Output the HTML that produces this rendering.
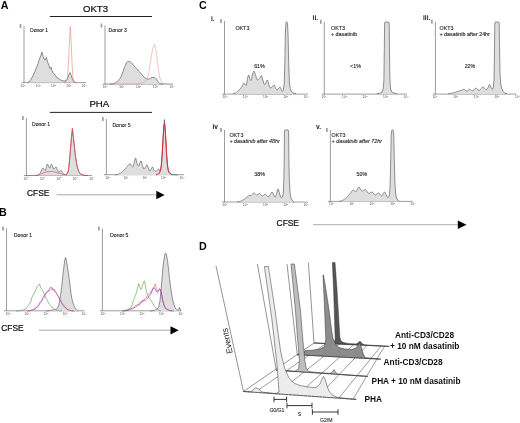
<!DOCTYPE html>
<html><head><meta charset="utf-8"><title>Figure</title>
<style>
html,body{margin:0;padding:0;background:#fff;}
body{width:520px;height:423px;overflow:hidden;font-family:"Liberation Sans",sans-serif;}
svg{display:block;font-family:"Liberation Sans",sans-serif;}
</style></head><body>
<svg width="520" height="423" viewBox="0 0 520 423">
<defs><filter id="b" x="0" y="0" width="100%" height="100%"><feGaussianBlur stdDeviation="0.32"/></filter></defs>
<rect width="520" height="423" fill="#fff"/>
<g filter="url(#b)">
<text x="0.80" y="8.50" font-size="10.7" font-weight="bold" fill="#000" text-anchor="start"  >A</text>
<text x="83.00" y="11.50" font-size="9.6" font-weight="normal" fill="#111" text-anchor="start" stroke="#111" stroke-width="0.22" >OKT3</text>
<line x1="49.80" y1="16.50" x2="152.00" y2="16.50" stroke="#222" stroke-width="1" />
<line x1="24.00" y1="26.00" x2="24.00" y2="82.90" stroke="#747474" stroke-width="0.7" />
<line x1="21.50" y1="82.60" x2="86.00" y2="82.60" stroke="#747474" stroke-width="0.7" />
<rect x="19.7" y="24.0" width="1.6" height="4" fill="#9a9a9a"/>
<text x="23.00" y="86.60" font-size="3.2" font-weight="normal" fill="#4a4a4a" text-anchor="middle"  >10<tspan dy="-1.1" font-size="2.2">0</tspan></text>
<text x="38.25" y="86.60" font-size="3.2" font-weight="normal" fill="#4a4a4a" text-anchor="middle"  >10<tspan dy="-1.1" font-size="2.2">1</tspan></text>
<text x="53.50" y="86.60" font-size="3.2" font-weight="normal" fill="#4a4a4a" text-anchor="middle"  >10<tspan dy="-1.1" font-size="2.2">2</tspan></text>
<text x="68.75" y="86.60" font-size="3.2" font-weight="normal" fill="#4a4a4a" text-anchor="middle"  >10<tspan dy="-1.1" font-size="2.2">3</tspan></text>
<text x="84.00" y="86.60" font-size="3.2" font-weight="normal" fill="#4a4a4a" text-anchor="middle"  >10<tspan dy="-1.1" font-size="2.2">4</tspan></text>
<text x="30.00" y="32.20" font-size="5.1" font-weight="normal" fill="#111" text-anchor="start" stroke="#111" stroke-width="0.09" >Donor 1</text>
<path d="M27.70 82.60 L30.00 81.10 L32.00 77.60 L34.00 73.60 L36.00 68.60 L38.00 63.60 L39.60 58.60 L40.80 55.60 L42.00 52.10 L43.00 56.10 L44.00 58.60 L45.00 60.10 L46.40 57.60 L47.50 61.60 L49.00 65.60 L50.00 68.60 L51.00 67.10 L52.00 70.60 L53.50 73.60 L55.00 74.60 L56.00 76.60 L58.00 78.10 L60.00 79.60 L62.00 80.60 L64.00 81.10 L66.00 80.60 L67.50 78.60 L69.00 74.60 L70.00 72.60 L71.00 74.60 L72.50 79.60 L74.00 82.10 L76.00 82.60Z" fill="#dedede" stroke="none"/>
<path d="M27.70 82.60 L30.00 81.10 L32.00 77.60 L34.00 73.60 L36.00 68.60 L38.00 63.60 L39.60 58.60 L40.80 55.60 L42.00 52.10 L43.00 56.10 L44.00 58.60 L45.00 60.10 L46.40 57.60 L47.50 61.60 L49.00 65.60 L50.00 68.60 L51.00 67.10 L52.00 70.60 L53.50 73.60 L55.00 74.60 L56.00 76.60 L58.00 78.10 L60.00 79.60 L62.00 80.60 L64.00 81.10 L66.00 80.60 L67.50 78.60 L69.00 74.60 L70.00 72.60 L71.00 74.60 L72.50 79.60 L74.00 82.10 L76.00 82.60" fill="none" stroke="#4a4a4a" stroke-width="0.6" stroke-linejoin="round" />
<path d="M64.00 82.60 L66.50 81.60 L67.50 77.60 L68.50 64.60 L69.30 44.60 L70.30 26.60 L71.30 44.60 L72.10 64.60 L73.00 77.60 L74.00 81.60 L76.00 82.60" fill="none" stroke="#e27878" stroke-width="0.55" stroke-linejoin="round" />
<line x1="105.00" y1="25.50" x2="105.00" y2="84.40" stroke="#747474" stroke-width="0.7" />
<line x1="102.50" y1="84.10" x2="173.00" y2="84.10" stroke="#747474" stroke-width="0.7" />
<rect x="100.7" y="23.5" width="1.6" height="4" fill="#9a9a9a"/>
<text x="105.00" y="88.10" font-size="3.2" font-weight="normal" fill="#4a4a4a" text-anchor="middle"  >10<tspan dy="-1.1" font-size="2.2">0</tspan></text>
<text x="121.75" y="88.10" font-size="3.2" font-weight="normal" fill="#4a4a4a" text-anchor="middle"  >10<tspan dy="-1.1" font-size="2.2">1</tspan></text>
<text x="138.50" y="88.10" font-size="3.2" font-weight="normal" fill="#4a4a4a" text-anchor="middle"  >10<tspan dy="-1.1" font-size="2.2">2</tspan></text>
<text x="155.25" y="88.10" font-size="3.2" font-weight="normal" fill="#4a4a4a" text-anchor="middle"  >10<tspan dy="-1.1" font-size="2.2">3</tspan></text>
<text x="172.00" y="88.10" font-size="3.2" font-weight="normal" fill="#4a4a4a" text-anchor="middle"  >10<tspan dy="-1.1" font-size="2.2">4</tspan></text>
<text x="108.60" y="32.20" font-size="5.1" font-weight="normal" fill="#111" text-anchor="start" stroke="#111" stroke-width="0.09" >Donor 3</text>
<path d="M110.00 84.10 L111.10 84.05 L112.21 83.92 L113.31 83.74 L114.42 83.35 L115.52 82.68 L116.62 81.96 L117.73 81.38 L118.83 79.99 L119.94 78.50 L121.04 77.01 L122.15 73.83 L123.25 70.86 L124.35 67.70 L125.46 64.96 L126.56 62.57 L127.67 61.58 L128.77 61.72 L129.88 61.59 L130.98 62.49 L132.08 63.49 L133.19 64.53 L134.29 66.28 L135.40 67.35 L136.50 68.31 L137.60 69.29 L138.71 71.00 L139.81 72.03 L140.92 73.44 L142.02 74.75 L143.12 75.98 L144.23 77.46 L145.33 78.16 L146.44 78.75 L147.54 78.69 L148.65 79.06 L149.75 78.91 L150.85 78.01 L151.96 77.59 L153.06 77.29 L154.17 77.59 L155.27 77.85 L156.38 79.00 L157.48 80.64 L158.58 82.22 L159.69 83.33 L160.79 83.75 L161.90 84.01 L163.00 84.10Z" fill="#dedede" stroke="none"/>
<path d="M110.00 84.10 L111.10 84.05 L112.21 83.92 L113.31 83.74 L114.42 83.35 L115.52 82.68 L116.62 81.96 L117.73 81.38 L118.83 79.99 L119.94 78.50 L121.04 77.01 L122.15 73.83 L123.25 70.86 L124.35 67.70 L125.46 64.96 L126.56 62.57 L127.67 61.58 L128.77 61.72 L129.88 61.59 L130.98 62.49 L132.08 63.49 L133.19 64.53 L134.29 66.28 L135.40 67.35 L136.50 68.31 L137.60 69.29 L138.71 71.00 L139.81 72.03 L140.92 73.44 L142.02 74.75 L143.12 75.98 L144.23 77.46 L145.33 78.16 L146.44 78.75 L147.54 78.69 L148.65 79.06 L149.75 78.91 L150.85 78.01 L151.96 77.59 L153.06 77.29 L154.17 77.59 L155.27 77.85 L156.38 79.00 L157.48 80.64 L158.58 82.22 L159.69 83.33 L160.79 83.75 L161.90 84.01 L163.00 84.10" fill="none" stroke="#4a4a4a" stroke-width="0.6" stroke-linejoin="round" />
<path d="M105.00 84.10 L106.10 84.05 L107.20 84.01 L108.31 83.96 L109.41 83.92 L110.51 83.89 L111.61 83.87 L112.71 83.83 L113.81 83.80 L114.92 83.75 L116.02 83.74 L117.12 83.71 L118.22 83.69 L119.32 83.68 L120.42 83.69 L121.53 83.72 L122.63 83.72 L123.73 83.72 L124.83 83.72 L125.93 83.68 L127.03 83.69 L128.14 83.71 L129.24 83.71 L130.34 83.72 L131.44 83.72 L132.54 83.68 L133.64 83.71 L134.75 83.71 L135.85 83.69 L136.95 83.63 L138.05 83.57 L139.15 83.44 L140.25 83.39 L141.36 83.24 L142.46 83.02 L143.56 82.61 L144.66 82.16 L145.76 81.24 L146.86 79.67 L147.97 76.19 L149.07 71.22 L150.17 64.04 L151.27 57.04 L152.37 50.49 L153.47 46.07 L154.58 44.50 L155.68 48.59 L156.78 55.44 L157.88 65.04 L158.98 73.98 L160.08 78.57 L161.19 81.27 L162.29 82.52 L163.39 83.16 L164.49 83.42 L165.59 83.51 L166.69 83.64 L167.80 83.72 L168.90 83.79 L170.00 83.79" fill="none" stroke="#e89090" stroke-width="0.55" stroke-linejoin="round" />
<text x="89.40" y="106.60" font-size="9.6" font-weight="normal" fill="#111" text-anchor="start" stroke="#111" stroke-width="0.22" >PHA</text>
<line x1="49.80" y1="112.40" x2="152.00" y2="112.40" stroke="#222" stroke-width="1" />
<line x1="26.40" y1="118.00" x2="26.40" y2="175.80" stroke="#747474" stroke-width="0.7" />
<line x1="23.90" y1="175.50" x2="92.00" y2="175.50" stroke="#747474" stroke-width="0.7" />
<rect x="22.1" y="116.0" width="1.6" height="4" fill="#9a9a9a"/>
<text x="26.00" y="179.50" font-size="3.2" font-weight="normal" fill="#4a4a4a" text-anchor="middle"  >10<tspan dy="-1.1" font-size="2.2">0</tspan></text>
<text x="42.40" y="179.50" font-size="3.2" font-weight="normal" fill="#4a4a4a" text-anchor="middle"  >10<tspan dy="-1.1" font-size="2.2">1</tspan></text>
<text x="58.80" y="179.50" font-size="3.2" font-weight="normal" fill="#4a4a4a" text-anchor="middle"  >10<tspan dy="-1.1" font-size="2.2">2</tspan></text>
<text x="75.20" y="179.50" font-size="3.2" font-weight="normal" fill="#4a4a4a" text-anchor="middle"  >10<tspan dy="-1.1" font-size="2.2">3</tspan></text>
<text x="91.60" y="179.50" font-size="3.2" font-weight="normal" fill="#4a4a4a" text-anchor="middle"  >10<tspan dy="-1.1" font-size="2.2">4</tspan></text>
<text x="32.00" y="126.20" font-size="5.1" font-weight="normal" fill="#111" text-anchor="start" stroke="#111" stroke-width="0.09" >Donor 1</text>
<path d="M36.00 175.60 L36.30 175.59 L36.60 175.56 L36.90 175.50 L37.20 175.44 L37.50 175.36 L37.80 175.26 L38.10 175.16 L38.40 174.99 L38.70 174.75 L39.00 174.46 L39.30 174.11 L39.60 173.73 L39.90 173.32 L40.20 172.91 L40.50 172.50 L40.80 172.01 L41.10 171.38 L41.40 170.67 L41.70 169.95 L42.00 169.26 L42.30 168.67 L42.60 168.24 L42.90 168.02 L43.20 168.06 L43.50 168.33 L43.80 168.75 L44.10 169.25 L44.40 169.75 L44.70 170.17 L45.00 170.44 L45.30 170.46 L45.60 169.93 L45.90 168.94 L46.20 167.69 L46.50 166.37 L46.80 165.19 L47.10 164.33 L47.40 164.00 L47.70 164.22 L48.00 164.79 L48.30 165.57 L48.60 166.43 L48.90 167.21 L49.20 167.78 L49.50 168.00 L49.80 167.80 L50.10 167.29 L50.40 166.58 L50.70 165.82 L51.00 165.11 L51.30 164.60 L51.60 164.40 L51.90 164.63 L52.20 165.24 L52.50 166.08 L52.80 167.01 L53.10 167.90 L53.40 168.60 L53.70 168.97 L54.00 168.95 L54.30 168.74 L54.60 168.40 L54.90 168.00 L55.20 167.60 L55.50 167.26 L55.80 167.05 L56.10 167.02 L56.40 167.34 L56.70 167.96 L57.00 168.76 L57.30 169.65 L57.60 170.52 L57.90 171.27 L58.20 171.80 L58.50 172.00 L58.80 171.94 L59.10 171.80 L59.40 171.59 L59.70 171.34 L60.00 171.09 L60.30 170.87 L60.60 170.70 L60.90 170.61 L61.20 170.65 L61.50 170.91 L61.80 171.33 L62.10 171.86 L62.40 172.43 L62.70 172.99 L63.00 173.48 L63.30 173.85 L63.60 174.05 L63.90 174.20 L64.20 174.34 L64.50 174.47 L64.80 174.58 L65.10 174.67 L65.40 174.74 L65.70 174.78 L66.00 174.80 L67.00 174.00 L68.20 171.00 L69.00 166.00 L70.00 155.00 L71.20 140.00 L72.40 128.60 L73.70 140.00 L75.30 155.00 L76.70 164.00 L77.60 168.00 L79.00 172.00 L80.60 174.00 L83.50 175.20 L88.00 175.60Z" fill="#dedede" stroke="none"/>
<path d="M36.00 175.60 L36.30 175.59 L36.60 175.56 L36.90 175.50 L37.20 175.44 L37.50 175.36 L37.80 175.26 L38.10 175.16 L38.40 174.99 L38.70 174.75 L39.00 174.46 L39.30 174.11 L39.60 173.73 L39.90 173.32 L40.20 172.91 L40.50 172.50 L40.80 172.01 L41.10 171.38 L41.40 170.67 L41.70 169.95 L42.00 169.26 L42.30 168.67 L42.60 168.24 L42.90 168.02 L43.20 168.06 L43.50 168.33 L43.80 168.75 L44.10 169.25 L44.40 169.75 L44.70 170.17 L45.00 170.44 L45.30 170.46 L45.60 169.93 L45.90 168.94 L46.20 167.69 L46.50 166.37 L46.80 165.19 L47.10 164.33 L47.40 164.00 L47.70 164.22 L48.00 164.79 L48.30 165.57 L48.60 166.43 L48.90 167.21 L49.20 167.78 L49.50 168.00 L49.80 167.80 L50.10 167.29 L50.40 166.58 L50.70 165.82 L51.00 165.11 L51.30 164.60 L51.60 164.40 L51.90 164.63 L52.20 165.24 L52.50 166.08 L52.80 167.01 L53.10 167.90 L53.40 168.60 L53.70 168.97 L54.00 168.95 L54.30 168.74 L54.60 168.40 L54.90 168.00 L55.20 167.60 L55.50 167.26 L55.80 167.05 L56.10 167.02 L56.40 167.34 L56.70 167.96 L57.00 168.76 L57.30 169.65 L57.60 170.52 L57.90 171.27 L58.20 171.80 L58.50 172.00 L58.80 171.94 L59.10 171.80 L59.40 171.59 L59.70 171.34 L60.00 171.09 L60.30 170.87 L60.60 170.70 L60.90 170.61 L61.20 170.65 L61.50 170.91 L61.80 171.33 L62.10 171.86 L62.40 172.43 L62.70 172.99 L63.00 173.48 L63.30 173.85 L63.60 174.05 L63.90 174.20 L64.20 174.34 L64.50 174.47 L64.80 174.58 L65.10 174.67 L65.40 174.74 L65.70 174.78 L66.00 174.80 L67.00 174.00 L68.20 171.00 L69.00 166.00 L70.00 155.00 L71.20 140.00 L72.40 128.60 L73.70 140.00 L75.30 155.00 L76.70 164.00 L77.60 168.00 L79.00 172.00 L80.60 174.00 L83.50 175.20 L88.00 175.60" fill="none" stroke="#4a4a4a" stroke-width="0.6" stroke-linejoin="round" />
<path d="M26.00 175.60 L26.40 175.60 L26.80 175.60 L27.20 175.60 L27.60 175.59 L28.00 175.59 L28.40 175.58 L28.80 175.58 L29.20 175.57 L29.60 175.56 L30.00 175.55 L30.40 175.54 L30.80 175.53 L31.20 175.52 L31.60 175.50 L32.00 175.49 L32.40 175.47 L32.80 175.46 L33.20 175.44 L33.60 175.42 L34.00 175.41 L34.40 175.39 L34.80 175.37 L35.20 175.35 L35.60 175.32 L36.00 175.30 L36.40 175.26 L36.80 175.21 L37.20 175.13 L37.60 175.03 L38.00 174.92 L38.40 174.80 L38.80 174.67 L39.20 174.52 L39.60 174.38 L40.00 174.22 L40.40 174.07 L40.80 173.92 L41.20 173.77 L41.60 173.63 L42.00 173.50 L42.40 173.36 L42.80 173.21 L43.20 173.05 L43.60 172.89 L44.00 172.72 L44.40 172.55 L44.80 172.39 L45.20 172.25 L45.60 172.11 L46.00 171.99 L46.40 171.89 L46.80 171.82 L47.20 171.78 L47.60 171.74 L48.00 171.70 L48.40 171.67 L48.80 171.64 L49.20 171.61 L49.60 171.58 L50.00 171.56 L50.40 171.54 L50.80 171.52 L51.20 171.51 L51.60 171.50 L52.00 171.50 L52.40 171.51 L52.80 171.54 L53.20 171.59 L53.60 171.66 L54.00 171.74 L54.40 171.83 L54.80 171.92 L55.20 172.03 L55.60 172.13 L56.00 172.24 L56.40 172.35 L56.80 172.45 L57.20 172.55 L57.60 172.66 L58.00 172.78 L58.40 172.91 L58.80 173.04 L59.20 173.17 L59.60 173.31 L60.00 173.44 L60.40 173.57 L60.80 173.70 L61.20 173.81 L61.60 173.91 L62.00 174.00 L62.40 174.08 L62.80 174.15 L63.20 174.22 L63.60 174.29 L64.00 174.36 L64.40 174.42 L64.80 174.47 L65.20 174.52 L65.60 174.56 L66.00 174.60 L67.00 174.00 L68.20 171.00 L69.00 166.00 L70.00 155.00 L71.20 140.00 L72.40 128.60 L73.70 140.00 L75.30 155.00 L76.70 164.00 L77.60 168.00 L79.00 172.00 L80.60 174.00 L83.50 175.20 L88.00 175.60" fill="none" stroke="#e04a5e" stroke-width="0.75" stroke-linejoin="round" />
<line x1="106.40" y1="119.00" x2="106.40" y2="175.00" stroke="#747474" stroke-width="0.7" />
<line x1="103.90" y1="174.70" x2="184.00" y2="174.70" stroke="#747474" stroke-width="0.7" />
<rect x="102.1" y="117.0" width="1.6" height="4" fill="#9a9a9a"/>
<text x="107.60" y="178.70" font-size="3.2" font-weight="normal" fill="#4a4a4a" text-anchor="middle"  >10<tspan dy="-1.1" font-size="2.2">0</tspan></text>
<text x="126.20" y="178.70" font-size="3.2" font-weight="normal" fill="#4a4a4a" text-anchor="middle"  >10<tspan dy="-1.1" font-size="2.2">1</tspan></text>
<text x="144.80" y="178.70" font-size="3.2" font-weight="normal" fill="#4a4a4a" text-anchor="middle"  >10<tspan dy="-1.1" font-size="2.2">2</tspan></text>
<text x="163.40" y="178.70" font-size="3.2" font-weight="normal" fill="#4a4a4a" text-anchor="middle"  >10<tspan dy="-1.1" font-size="2.2">3</tspan></text>
<text x="182.00" y="178.70" font-size="3.2" font-weight="normal" fill="#4a4a4a" text-anchor="middle"  >10<tspan dy="-1.1" font-size="2.2">4</tspan></text>
<text x="112.40" y="127.40" font-size="5.1" font-weight="normal" fill="#111" text-anchor="start" stroke="#111" stroke-width="0.09" >Donor 5</text>
<path d="M115.00 175.00 L115.30 174.97 L115.60 174.92 L115.90 174.87 L116.21 174.81 L116.51 174.74 L116.81 174.66 L117.11 174.58 L117.41 174.49 L117.71 174.39 L118.01 174.30 L118.31 174.19 L118.62 174.07 L118.92 173.93 L119.22 173.79 L119.52 173.63 L119.82 173.46 L120.12 173.28 L120.42 173.09 L120.73 172.89 L121.03 172.69 L121.33 172.48 L121.63 172.27 L121.93 172.05 L122.23 171.82 L122.53 171.58 L122.84 171.32 L123.14 171.04 L123.44 170.75 L123.74 170.45 L124.04 170.14 L124.34 169.82 L124.64 169.50 L124.94 169.17 L125.25 168.83 L125.55 168.50 L125.85 168.17 L126.15 167.83 L126.45 167.48 L126.75 167.11 L127.05 166.73 L127.36 166.35 L127.66 165.97 L127.96 165.61 L128.26 165.26 L128.56 164.94 L128.86 164.58 L129.16 164.21 L129.46 163.88 L129.77 163.66 L130.07 163.61 L130.37 163.89 L130.67 164.44 L130.97 165.09 L131.27 165.68 L131.57 166.08 L131.88 166.40 L132.18 166.69 L132.48 166.91 L132.78 167.00 L133.08 166.72 L133.38 165.95 L133.68 164.88 L133.99 163.74 L134.29 162.70 L134.59 161.42 L134.89 159.99 L135.19 158.76 L135.49 158.06 L135.79 158.19 L136.09 159.13 L136.40 160.53 L136.70 162.06 L137.00 163.39 L137.30 164.23 L137.60 164.92 L137.90 165.53 L138.20 165.92 L138.51 165.97 L138.81 165.54 L139.11 164.80 L139.41 163.95 L139.71 163.18 L140.01 162.57 L140.31 161.90 L140.61 161.33 L140.92 161.02 L141.22 161.19 L141.52 161.95 L141.82 163.08 L142.12 164.33 L142.42 165.48 L142.72 166.33 L143.03 167.19 L143.33 168.01 L143.63 168.66 L143.93 168.99 L144.23 168.93 L144.53 168.64 L144.83 168.21 L145.14 167.72 L145.44 167.23 L145.74 166.80 L146.04 166.26 L146.34 165.69 L146.64 165.23 L146.94 165.01 L147.24 165.19 L147.55 165.84 L147.85 166.76 L148.15 167.76 L148.45 168.66 L148.75 169.32 L149.05 169.99 L149.35 170.58 L149.66 170.95 L149.96 170.95 L150.26 170.64 L150.56 170.14 L150.86 169.57 L151.16 169.06 L151.46 168.57 L151.76 168.00 L152.07 167.47 L152.37 167.10 L152.67 167.02 L152.97 167.40 L153.27 168.15 L153.57 169.04 L153.87 169.89 L154.18 170.47 L154.48 170.82 L154.78 171.14 L155.08 171.40 L155.38 171.56 L155.68 171.59 L155.98 171.43 L156.29 171.12 L156.59 170.74 L156.89 170.34 L157.19 170.01 L157.49 169.70 L157.79 169.37 L158.09 169.11 L158.39 169.00 L158.70 169.14 L159.00 169.56 L159.30 170.19 L159.60 171.00 L160.60 170.00 L161.40 165.00 L162.20 155.00 L163.00 140.00 L163.80 126.00 L164.40 119.60 L165.00 126.00 L165.80 140.00 L166.60 155.00 L167.40 165.00 L168.20 170.00 L169.50 173.00 L172.00 174.60 L178.00 175.00Z" fill="#dedede" stroke="none"/>
<path d="M115.00 175.00 L115.30 174.97 L115.60 174.92 L115.90 174.87 L116.21 174.81 L116.51 174.74 L116.81 174.66 L117.11 174.58 L117.41 174.49 L117.71 174.39 L118.01 174.30 L118.31 174.19 L118.62 174.07 L118.92 173.93 L119.22 173.79 L119.52 173.63 L119.82 173.46 L120.12 173.28 L120.42 173.09 L120.73 172.89 L121.03 172.69 L121.33 172.48 L121.63 172.27 L121.93 172.05 L122.23 171.82 L122.53 171.58 L122.84 171.32 L123.14 171.04 L123.44 170.75 L123.74 170.45 L124.04 170.14 L124.34 169.82 L124.64 169.50 L124.94 169.17 L125.25 168.83 L125.55 168.50 L125.85 168.17 L126.15 167.83 L126.45 167.48 L126.75 167.11 L127.05 166.73 L127.36 166.35 L127.66 165.97 L127.96 165.61 L128.26 165.26 L128.56 164.94 L128.86 164.58 L129.16 164.21 L129.46 163.88 L129.77 163.66 L130.07 163.61 L130.37 163.89 L130.67 164.44 L130.97 165.09 L131.27 165.68 L131.57 166.08 L131.88 166.40 L132.18 166.69 L132.48 166.91 L132.78 167.00 L133.08 166.72 L133.38 165.95 L133.68 164.88 L133.99 163.74 L134.29 162.70 L134.59 161.42 L134.89 159.99 L135.19 158.76 L135.49 158.06 L135.79 158.19 L136.09 159.13 L136.40 160.53 L136.70 162.06 L137.00 163.39 L137.30 164.23 L137.60 164.92 L137.90 165.53 L138.20 165.92 L138.51 165.97 L138.81 165.54 L139.11 164.80 L139.41 163.95 L139.71 163.18 L140.01 162.57 L140.31 161.90 L140.61 161.33 L140.92 161.02 L141.22 161.19 L141.52 161.95 L141.82 163.08 L142.12 164.33 L142.42 165.48 L142.72 166.33 L143.03 167.19 L143.33 168.01 L143.63 168.66 L143.93 168.99 L144.23 168.93 L144.53 168.64 L144.83 168.21 L145.14 167.72 L145.44 167.23 L145.74 166.80 L146.04 166.26 L146.34 165.69 L146.64 165.23 L146.94 165.01 L147.24 165.19 L147.55 165.84 L147.85 166.76 L148.15 167.76 L148.45 168.66 L148.75 169.32 L149.05 169.99 L149.35 170.58 L149.66 170.95 L149.96 170.95 L150.26 170.64 L150.56 170.14 L150.86 169.57 L151.16 169.06 L151.46 168.57 L151.76 168.00 L152.07 167.47 L152.37 167.10 L152.67 167.02 L152.97 167.40 L153.27 168.15 L153.57 169.04 L153.87 169.89 L154.18 170.47 L154.48 170.82 L154.78 171.14 L155.08 171.40 L155.38 171.56 L155.68 171.59 L155.98 171.43 L156.29 171.12 L156.59 170.74 L156.89 170.34 L157.19 170.01 L157.49 169.70 L157.79 169.37 L158.09 169.11 L158.39 169.00 L158.70 169.14 L159.00 169.56 L159.30 170.19 L159.60 171.00 L160.60 170.00 L161.40 165.00 L162.20 155.00 L163.00 140.00 L163.80 126.00 L164.40 119.60 L165.00 126.00 L165.80 140.00 L166.60 155.00 L167.40 165.00 L168.20 170.00 L169.50 173.00 L172.00 174.60 L178.00 175.00" fill="none" stroke="#4a4a4a" stroke-width="0.6" stroke-linejoin="round" />
<path d="M156.00 175.00 L159.30 173.50 L160.60 170.00 L161.30 165.00 L162.10 155.00 L162.90 140.00 L163.70 128.00 L164.40 123.50 L165.10 128.00 L165.90 140.00 L166.70 155.00 L167.50 165.00 L168.20 170.00 L169.50 173.00 L172.00 175.00" fill="none" stroke="#d8283a" stroke-width="1.0" stroke-linejoin="round" />
<text x="27.00" y="196.20" font-size="8.4" font-weight="normal" fill="#111" text-anchor="start" stroke="#111" stroke-width="0.22" >CFSE</text>
<line x1="56.50" y1="194.80" x2="158.00" y2="194.80" stroke="#888" stroke-width="0.7" />
<polygon points="156.3,190.8 164.6,195 156.3,199.2" fill="#000"/>
<text x="-1.00" y="216.00" font-size="10.7" font-weight="bold" fill="#000" text-anchor="start"  >B</text>
<line x1="6.50" y1="228.50" x2="6.50" y2="311.10" stroke="#747474" stroke-width="0.7" />
<line x1="4.00" y1="310.80" x2="84.50" y2="310.80" stroke="#747474" stroke-width="0.7" />
<rect x="2.2" y="226.5" width="1.6" height="4" fill="#9a9a9a"/>
<text x="8.00" y="314.80" font-size="3.2" font-weight="normal" fill="#4a4a4a" text-anchor="middle"  >10<tspan dy="-1.1" font-size="2.2">0</tspan></text>
<text x="27.00" y="314.80" font-size="3.2" font-weight="normal" fill="#4a4a4a" text-anchor="middle"  >10<tspan dy="-1.1" font-size="2.2">1</tspan></text>
<text x="46.00" y="314.80" font-size="3.2" font-weight="normal" fill="#4a4a4a" text-anchor="middle"  >10<tspan dy="-1.1" font-size="2.2">2</tspan></text>
<text x="65.00" y="314.80" font-size="3.2" font-weight="normal" fill="#4a4a4a" text-anchor="middle"  >10<tspan dy="-1.1" font-size="2.2">3</tspan></text>
<text x="84.00" y="314.80" font-size="3.2" font-weight="normal" fill="#4a4a4a" text-anchor="middle"  >10<tspan dy="-1.1" font-size="2.2">4</tspan></text>
<text x="13.80" y="237.30" font-size="5.2" font-weight="normal" fill="#111" text-anchor="start" stroke="#111" stroke-width="0.09" >Donor 1</text>
<path d="M46.00 311.00 L46.40 310.97 L46.80 310.93 L47.20 310.89 L47.60 310.85 L48.00 310.80 L48.40 310.75 L48.80 310.70 L49.20 310.64 L49.60 310.58 L50.00 310.52 L50.40 310.46 L50.80 310.40 L51.20 310.33 L51.60 310.27 L52.00 310.20 L52.40 310.13 L52.80 310.07 L53.20 310.01 L53.60 309.94 L54.00 309.87 L54.40 309.79 L54.80 309.69 L55.20 309.58 L55.60 309.45 L56.00 309.30 L56.40 309.07 L56.80 308.73 L57.20 308.26 L57.60 307.69 L58.00 307.00 L58.40 306.21 L58.80 305.14 L59.20 303.42 L59.60 301.25 L60.00 298.84 L60.40 296.38 L60.80 293.65 L61.20 290.61 L61.60 287.35 L62.00 284.00 L62.40 280.31 L62.80 276.29 L63.20 272.46 L63.60 269.25 L64.00 266.10 L64.40 262.97 L64.80 260.25 L65.20 258.33 L65.60 257.60 L66.00 258.43 L66.40 260.42 L66.80 262.85 L67.20 265.14 L67.60 267.68 L68.00 270.46 L68.40 273.30 L68.80 276.11 L69.20 278.98 L69.60 281.93 L70.00 285.00 L70.40 288.45 L70.80 292.04 L71.20 295.00 L71.60 297.19 L72.00 299.03 L72.40 300.63 L72.80 302.06 L73.20 303.34 L73.60 304.49 L74.00 305.50 L74.40 306.42 L74.80 307.29 L75.20 308.08 L75.60 308.75 L76.00 309.30 L76.40 309.76 L76.80 310.17 L77.20 310.53 L77.60 310.82 L78.00 311.00Z" fill="#dedede" stroke="none"/>
<path d="M46.00 311.00 L46.40 310.97 L46.80 310.93 L47.20 310.89 L47.60 310.85 L48.00 310.80 L48.40 310.75 L48.80 310.70 L49.20 310.64 L49.60 310.58 L50.00 310.52 L50.40 310.46 L50.80 310.40 L51.20 310.33 L51.60 310.27 L52.00 310.20 L52.40 310.13 L52.80 310.07 L53.20 310.01 L53.60 309.94 L54.00 309.87 L54.40 309.79 L54.80 309.69 L55.20 309.58 L55.60 309.45 L56.00 309.30 L56.40 309.07 L56.80 308.73 L57.20 308.26 L57.60 307.69 L58.00 307.00 L58.40 306.21 L58.80 305.14 L59.20 303.42 L59.60 301.25 L60.00 298.84 L60.40 296.38 L60.80 293.65 L61.20 290.61 L61.60 287.35 L62.00 284.00 L62.40 280.31 L62.80 276.29 L63.20 272.46 L63.60 269.25 L64.00 266.10 L64.40 262.97 L64.80 260.25 L65.20 258.33 L65.60 257.60 L66.00 258.43 L66.40 260.42 L66.80 262.85 L67.20 265.14 L67.60 267.68 L68.00 270.46 L68.40 273.30 L68.80 276.11 L69.20 278.98 L69.60 281.93 L70.00 285.00 L70.40 288.45 L70.80 292.04 L71.20 295.00 L71.60 297.19 L72.00 299.03 L72.40 300.63 L72.80 302.06 L73.20 303.34 L73.60 304.49 L74.00 305.50 L74.40 306.42 L74.80 307.29 L75.20 308.08 L75.60 308.75 L76.00 309.30 L76.40 309.76 L76.80 310.17 L77.20 310.53 L77.60 310.82 L78.00 311.00" fill="none" stroke="#4a4a4a" stroke-width="0.6" stroke-linejoin="round" />
<path d="M16.00 311.00 L17.12 310.96 L18.24 310.88 L19.37 310.68 L20.49 310.57 L21.61 310.33 L22.73 309.99 L23.85 309.88 L24.98 309.17 L26.10 308.88 L27.22 307.21 L28.34 305.38 L29.46 303.99 L30.59 302.11 L31.71 298.02 L32.83 295.54 L33.95 293.59 L35.07 291.65 L36.20 288.57 L37.32 286.11 L38.44 285.28 L39.56 283.87 L40.68 288.01 L41.80 289.23 L42.93 291.21 L44.05 293.41 L45.17 296.00 L46.29 299.23 L47.41 300.27 L48.54 302.93 L49.66 304.77 L50.78 305.84 L51.90 307.57 L53.02 308.03 L54.15 308.84 L55.27 309.57 L56.39 310.21 L57.51 310.39 L58.63 310.61 L59.76 310.83 L60.88 310.95 L62.00 311.00" fill="none" stroke="#4f9a3c" stroke-width="0.6" stroke-linejoin="round" />
<path d="M27.00 311.00 L28.12 310.95 L29.24 310.70 L30.36 310.52 L31.48 309.96 L32.60 309.60 L33.71 309.68 L34.83 308.37 L35.95 308.07 L37.07 306.86 L38.19 305.60 L39.31 304.10 L40.43 301.82 L41.55 301.23 L42.67 298.00 L43.79 296.36 L44.90 294.21 L46.02 292.95 L47.14 291.64 L48.26 291.12 L49.38 288.91 L50.50 287.15 L51.62 287.47 L52.74 290.10 L53.86 289.53 L54.98 291.69 L56.10 292.66 L57.21 294.83 L58.33 296.28 L59.45 299.28 L60.57 301.03 L61.69 303.26 L62.81 305.46 L63.93 306.42 L65.05 307.10 L66.17 308.15 L67.29 309.65 L68.40 309.86 L69.52 310.18 L70.64 310.64 L71.76 310.78 L72.88 310.94 L74.00 311.00" fill="none" stroke="#8a35b5" stroke-width="0.6" stroke-linejoin="round" />
<path d="M28.00 311.00 L29.12 310.92 L30.24 310.66 L31.36 310.49 L32.48 309.78 L33.60 309.56 L34.71 309.41 L35.83 307.86 L36.95 307.56 L38.07 306.64 L39.19 304.19 L40.31 303.03 L41.43 301.76 L42.55 299.59 L43.67 298.41 L44.79 295.70 L45.90 294.08 L47.02 292.06 L48.14 291.37 L49.26 291.16 L50.38 289.75 L51.50 289.17 L52.62 288.51 L53.74 290.19 L54.86 290.24 L55.98 292.09 L57.10 294.45 L58.21 296.40 L59.33 298.00 L60.45 299.73 L61.57 302.05 L62.69 303.71 L63.81 305.37 L64.93 307.64 L66.05 307.91 L67.17 309.43 L68.29 309.91 L69.40 310.00 L70.52 310.48 L71.64 310.70 L72.76 310.82 L73.88 310.96 L75.00 311.00" fill="none" stroke="#e0559a" stroke-width="0.6" stroke-linejoin="round" />
<line x1="102.40" y1="228.50" x2="102.40" y2="311.10" stroke="#747474" stroke-width="0.7" />
<line x1="99.90" y1="310.80" x2="181.50" y2="310.80" stroke="#747474" stroke-width="0.7" />
<rect x="98.1" y="226.5" width="1.6" height="4" fill="#9a9a9a"/>
<text x="103.00" y="314.80" font-size="3.2" font-weight="normal" fill="#4a4a4a" text-anchor="middle"  >10<tspan dy="-1.1" font-size="2.2">0</tspan></text>
<text x="122.50" y="314.80" font-size="3.2" font-weight="normal" fill="#4a4a4a" text-anchor="middle"  >10<tspan dy="-1.1" font-size="2.2">1</tspan></text>
<text x="142.00" y="314.80" font-size="3.2" font-weight="normal" fill="#4a4a4a" text-anchor="middle"  >10<tspan dy="-1.1" font-size="2.2">2</tspan></text>
<text x="161.50" y="314.80" font-size="3.2" font-weight="normal" fill="#4a4a4a" text-anchor="middle"  >10<tspan dy="-1.1" font-size="2.2">3</tspan></text>
<text x="181.00" y="314.80" font-size="3.2" font-weight="normal" fill="#4a4a4a" text-anchor="middle"  >10<tspan dy="-1.1" font-size="2.2">4</tspan></text>
<text x="110.00" y="237.30" font-size="5.2" font-weight="normal" fill="#111" text-anchor="start" stroke="#111" stroke-width="0.09" >Donor 5</text>
<path d="M150.00 311.00 L150.40 310.99 L150.80 310.97 L151.20 310.92 L151.61 310.87 L152.01 310.80 L152.41 310.72 L152.81 310.63 L153.21 310.53 L153.61 310.42 L154.01 310.31 L154.41 310.18 L154.82 310.06 L155.22 309.93 L155.62 309.77 L156.02 309.59 L156.42 309.37 L156.82 309.10 L157.22 308.79 L157.62 308.41 L158.03 307.97 L158.43 307.25 L158.83 306.14 L159.23 304.65 L159.63 302.85 L160.03 300.43 L160.43 296.45 L160.84 291.82 L161.24 287.37 L161.64 282.64 L162.04 277.90 L162.44 273.46 L162.84 268.97 L163.24 264.83 L163.64 261.71 L164.05 259.14 L164.45 256.73 L164.85 254.73 L165.25 253.41 L165.65 253.01 L166.05 253.64 L166.45 255.07 L166.86 257.02 L167.26 259.21 L167.66 261.67 L168.06 265.07 L168.46 268.89 L168.86 272.53 L169.26 276.05 L169.66 279.57 L170.07 282.94 L170.47 286.07 L170.87 289.10 L171.27 291.92 L171.67 294.42 L172.07 296.65 L172.47 298.68 L172.88 300.49 L173.28 302.08 L173.68 303.54 L174.08 304.84 L174.48 305.95 L174.88 306.95 L175.28 307.88 L175.68 308.62 L176.09 309.07 L176.49 309.40 L176.89 309.70 L177.29 309.94 L177.69 310.13 L178.09 310.26 L178.49 310.30 L178.89 309.34 L179.30 307.80 L179.70 307.65 L180.10 308.80 L180.50 311.00Z" fill="#dedede" stroke="none"/>
<path d="M150.00 311.00 L150.40 310.99 L150.80 310.97 L151.20 310.92 L151.61 310.87 L152.01 310.80 L152.41 310.72 L152.81 310.63 L153.21 310.53 L153.61 310.42 L154.01 310.31 L154.41 310.18 L154.82 310.06 L155.22 309.93 L155.62 309.77 L156.02 309.59 L156.42 309.37 L156.82 309.10 L157.22 308.79 L157.62 308.41 L158.03 307.97 L158.43 307.25 L158.83 306.14 L159.23 304.65 L159.63 302.85 L160.03 300.43 L160.43 296.45 L160.84 291.82 L161.24 287.37 L161.64 282.64 L162.04 277.90 L162.44 273.46 L162.84 268.97 L163.24 264.83 L163.64 261.71 L164.05 259.14 L164.45 256.73 L164.85 254.73 L165.25 253.41 L165.65 253.01 L166.05 253.64 L166.45 255.07 L166.86 257.02 L167.26 259.21 L167.66 261.67 L168.06 265.07 L168.46 268.89 L168.86 272.53 L169.26 276.05 L169.66 279.57 L170.07 282.94 L170.47 286.07 L170.87 289.10 L171.27 291.92 L171.67 294.42 L172.07 296.65 L172.47 298.68 L172.88 300.49 L173.28 302.08 L173.68 303.54 L174.08 304.84 L174.48 305.95 L174.88 306.95 L175.28 307.88 L175.68 308.62 L176.09 309.07 L176.49 309.40 L176.89 309.70 L177.29 309.94 L177.69 310.13 L178.09 310.26 L178.49 310.30 L178.89 309.34 L179.30 307.80 L179.70 307.65 L180.10 308.80 L180.50 311.00" fill="none" stroke="#4a4a4a" stroke-width="0.6" stroke-linejoin="round" />
<path d="M122.00 311.00 L123.11 310.95 L124.23 310.84 L125.34 310.58 L126.46 310.30 L127.57 309.99 L128.69 309.25 L129.80 308.48 L130.91 307.32 L132.03 305.42 L133.14 301.30 L134.26 298.72 L135.37 295.30 L136.49 292.68 L137.60 287.96 L138.71 283.54 L139.83 286.86 L140.94 289.46 L142.06 287.30 L143.17 283.14 L144.29 280.86 L145.40 285.66 L146.51 292.16 L147.63 294.92 L148.74 297.31 L149.86 299.09 L150.97 300.03 L152.09 302.06 L153.20 303.82 L154.31 306.28 L155.43 307.31 L156.54 308.74 L157.66 309.47 L158.77 310.25 L159.89 310.74 L161.00 311.00" fill="none" stroke="#4f9a3c" stroke-width="0.6" stroke-linejoin="round" />
<path d="M122.00 311.00 L123.11 310.84 L124.22 310.63 L125.33 310.25 L126.44 309.87 L127.56 309.67 L128.67 309.24 L129.78 309.23 L130.89 308.71 L132.00 308.14 L133.11 307.55 L134.22 307.14 L135.33 305.62 L136.44 305.31 L137.56 304.04 L138.67 304.39 L139.78 302.24 L140.89 302.66 L142.00 300.63 L143.11 300.70 L144.22 299.12 L145.33 298.12 L146.44 297.65 L147.56 295.12 L148.67 293.93 L149.78 293.95 L150.89 291.89 L152.00 289.68 L153.11 288.94 L154.22 286.17 L155.33 283.84 L156.44 288.37 L157.56 291.41 L158.67 290.19 L159.78 289.38 L160.89 290.71 L162.00 297.85 L163.11 302.62 L164.22 305.52 L165.33 308.21 L166.44 308.89 L167.56 309.75 L168.67 310.29 L169.78 310.63 L170.89 310.90 L172.00 311.00" fill="none" stroke="#e25a6a" stroke-width="0.6" stroke-linejoin="round" />
<path d="M124.00 311.00 L125.11 310.84 L126.22 310.63 L127.33 310.44 L128.44 309.93 L129.56 309.60 L130.67 309.16 L131.78 308.77 L132.89 308.78 L134.00 307.61 L135.11 307.53 L136.22 306.41 L137.33 305.76 L138.44 305.07 L139.56 304.75 L140.67 303.44 L141.78 301.64 L142.89 301.26 L144.00 300.24 L145.11 300.50 L146.22 299.42 L147.33 298.36 L148.44 297.19 L149.56 295.65 L150.67 294.24 L151.78 291.87 L152.89 288.32 L154.00 287.56 L155.11 288.49 L156.22 290.99 L157.33 292.50 L158.44 291.10 L159.56 288.67 L160.67 289.75 L161.78 294.79 L162.89 300.72 L164.00 305.25 L165.11 307.32 L166.22 308.83 L167.33 309.36 L168.44 309.87 L169.56 310.35 L170.67 310.49 L171.78 310.79 L172.89 310.94 L174.00 311.00" fill="none" stroke="#8a35b5" stroke-width="0.65" stroke-linejoin="round" />
<text x="1.30" y="331.00" font-size="8.4" font-weight="normal" fill="#111" text-anchor="start" stroke="#111" stroke-width="0.22" >CFSE</text>
<line x1="39.00" y1="330.20" x2="172.00" y2="330.20" stroke="#888" stroke-width="0.7" />
<polygon points="170.5,326.2 178.7,330.3 170.5,334.4" fill="#000"/>
<text x="199.00" y="8.80" font-size="10.7" font-weight="bold" fill="#000" text-anchor="start"  >C</text>
<text x="211.00" y="20.80" font-size="6.6" font-weight="bold" fill="#222" text-anchor="start"  >i.</text>
<line x1="224.50" y1="21.00" x2="224.50" y2="94.40" stroke="#747474" stroke-width="0.7" />
<line x1="222.00" y1="94.10" x2="308.00" y2="94.10" stroke="#747474" stroke-width="0.7" />
<rect x="220.2" y="19.0" width="1.6" height="4" fill="#9a9a9a"/>
<text x="225.00" y="98.10" font-size="3.2" font-weight="normal" fill="#4a4a4a" text-anchor="middle"  >10<tspan dy="-1.1" font-size="2.2">0</tspan></text>
<text x="245.25" y="98.10" font-size="3.2" font-weight="normal" fill="#4a4a4a" text-anchor="middle"  >10<tspan dy="-1.1" font-size="2.2">1</tspan></text>
<text x="265.50" y="98.10" font-size="3.2" font-weight="normal" fill="#4a4a4a" text-anchor="middle"  >10<tspan dy="-1.1" font-size="2.2">2</tspan></text>
<text x="285.75" y="98.10" font-size="3.2" font-weight="normal" fill="#4a4a4a" text-anchor="middle"  >10<tspan dy="-1.1" font-size="2.2">3</tspan></text>
<text x="306.00" y="98.10" font-size="3.2" font-weight="normal" fill="#4a4a4a" text-anchor="middle"  >10<tspan dy="-1.1" font-size="2.2">4</tspan></text>
<text x="235.40" y="30.30" font-size="5.35" font-weight="normal" fill="#111" text-anchor="start" stroke="#111" stroke-width="0.09" >OKT3</text>
<text x="259.50" y="68.30" font-size="5.35" font-weight="normal" fill="#111" text-anchor="middle" stroke="#111" stroke-width="0.09" >61%</text>
<path d="M233.00 93.60 L233.30 93.59 L233.60 93.55 L233.91 93.50 L234.21 93.43 L234.51 93.34 L234.81 93.25 L235.11 93.14 L235.41 93.03 L235.72 92.91 L236.02 92.73 L236.32 92.52 L236.62 92.27 L236.92 92.00 L237.23 91.72 L237.53 91.44 L237.83 91.15 L238.13 90.88 L238.43 90.62 L238.73 90.35 L239.04 90.08 L239.34 89.81 L239.64 89.52 L239.94 89.22 L240.24 88.90 L240.55 88.56 L240.85 88.19 L241.15 87.79 L241.45 87.32 L241.75 86.79 L242.06 86.22 L242.36 85.64 L242.66 85.08 L242.96 84.56 L243.26 84.02 L243.56 83.43 L243.87 83.05 L244.17 83.06 L244.47 83.42 L244.77 83.94 L245.07 84.44 L245.38 84.80 L245.68 85.16 L245.98 85.43 L246.28 85.44 L246.58 84.41 L246.88 82.52 L247.19 80.35 L247.49 78.49 L247.79 77.24 L248.09 76.06 L248.39 75.20 L248.70 75.05 L249.00 75.71 L249.30 76.82 L249.60 77.95 L249.90 78.72 L250.20 79.41 L250.51 80.02 L250.81 80.42 L251.11 80.43 L251.41 79.65 L251.71 78.26 L252.02 76.62 L252.32 75.07 L252.62 73.95 L252.92 73.07 L253.22 72.21 L253.53 71.50 L253.83 71.07 L254.13 71.06 L254.43 71.59 L254.73 72.51 L255.03 73.62 L255.34 74.71 L255.64 75.60 L255.94 76.43 L256.24 77.34 L256.54 78.22 L256.85 79.01 L257.15 79.61 L257.45 79.95 L257.75 79.99 L258.05 79.89 L258.35 79.70 L258.66 79.46 L258.96 79.17 L259.26 78.86 L259.56 78.54 L259.86 78.13 L260.17 77.55 L260.47 76.89 L260.77 76.27 L261.07 75.80 L261.37 75.60 L261.67 75.87 L261.98 76.67 L262.28 77.79 L262.58 79.02 L262.88 80.14 L263.18 81.07 L263.49 82.12 L263.79 83.16 L264.09 84.00 L264.39 84.46 L264.69 84.44 L265.00 84.16 L265.30 83.71 L265.60 83.18 L265.90 82.66 L266.20 82.13 L266.50 81.44 L266.81 80.75 L267.11 80.21 L267.41 80.00 L267.71 80.38 L268.01 81.30 L268.32 82.51 L268.62 83.76 L268.92 84.79 L269.22 85.54 L269.52 86.31 L269.82 87.02 L270.13 87.60 L270.43 87.94 L270.73 87.99 L271.03 87.85 L271.33 87.61 L271.64 87.31 L271.94 86.97 L272.24 86.65 L272.54 86.36 L272.84 86.01 L273.14 85.64 L273.45 85.30 L273.75 85.07 L274.05 85.01 L274.35 85.27 L274.65 85.84 L274.96 86.56 L275.26 87.30 L275.56 87.93 L275.86 88.46 L276.16 89.04 L276.47 89.55 L276.77 89.90 L277.07 89.99 L277.37 89.86 L277.67 89.59 L277.97 89.24 L278.28 88.87 L278.58 88.52 L278.88 88.16 L279.18 87.74 L279.48 87.34 L279.79 87.07 L280.09 87.03 L280.39 87.44 L280.69 88.19 L280.99 89.01 L281.29 89.69 L281.60 90.30 L281.90 90.90 L282.20 91.50 L283.20 90.50 L284.20 84.00 L284.90 60.00 L285.30 35.00 L285.80 23.50 L286.60 21.60 L287.50 23.50 L288.10 35.00 L288.60 60.00 L289.40 82.00 L290.20 88.50 L291.40 91.50 L293.00 93.00 L296.00 93.60Z" fill="#dedede" stroke="none"/>
<path d="M233.00 93.60 L233.30 93.59 L233.60 93.55 L233.91 93.50 L234.21 93.43 L234.51 93.34 L234.81 93.25 L235.11 93.14 L235.41 93.03 L235.72 92.91 L236.02 92.73 L236.32 92.52 L236.62 92.27 L236.92 92.00 L237.23 91.72 L237.53 91.44 L237.83 91.15 L238.13 90.88 L238.43 90.62 L238.73 90.35 L239.04 90.08 L239.34 89.81 L239.64 89.52 L239.94 89.22 L240.24 88.90 L240.55 88.56 L240.85 88.19 L241.15 87.79 L241.45 87.32 L241.75 86.79 L242.06 86.22 L242.36 85.64 L242.66 85.08 L242.96 84.56 L243.26 84.02 L243.56 83.43 L243.87 83.05 L244.17 83.06 L244.47 83.42 L244.77 83.94 L245.07 84.44 L245.38 84.80 L245.68 85.16 L245.98 85.43 L246.28 85.44 L246.58 84.41 L246.88 82.52 L247.19 80.35 L247.49 78.49 L247.79 77.24 L248.09 76.06 L248.39 75.20 L248.70 75.05 L249.00 75.71 L249.30 76.82 L249.60 77.95 L249.90 78.72 L250.20 79.41 L250.51 80.02 L250.81 80.42 L251.11 80.43 L251.41 79.65 L251.71 78.26 L252.02 76.62 L252.32 75.07 L252.62 73.95 L252.92 73.07 L253.22 72.21 L253.53 71.50 L253.83 71.07 L254.13 71.06 L254.43 71.59 L254.73 72.51 L255.03 73.62 L255.34 74.71 L255.64 75.60 L255.94 76.43 L256.24 77.34 L256.54 78.22 L256.85 79.01 L257.15 79.61 L257.45 79.95 L257.75 79.99 L258.05 79.89 L258.35 79.70 L258.66 79.46 L258.96 79.17 L259.26 78.86 L259.56 78.54 L259.86 78.13 L260.17 77.55 L260.47 76.89 L260.77 76.27 L261.07 75.80 L261.37 75.60 L261.67 75.87 L261.98 76.67 L262.28 77.79 L262.58 79.02 L262.88 80.14 L263.18 81.07 L263.49 82.12 L263.79 83.16 L264.09 84.00 L264.39 84.46 L264.69 84.44 L265.00 84.16 L265.30 83.71 L265.60 83.18 L265.90 82.66 L266.20 82.13 L266.50 81.44 L266.81 80.75 L267.11 80.21 L267.41 80.00 L267.71 80.38 L268.01 81.30 L268.32 82.51 L268.62 83.76 L268.92 84.79 L269.22 85.54 L269.52 86.31 L269.82 87.02 L270.13 87.60 L270.43 87.94 L270.73 87.99 L271.03 87.85 L271.33 87.61 L271.64 87.31 L271.94 86.97 L272.24 86.65 L272.54 86.36 L272.84 86.01 L273.14 85.64 L273.45 85.30 L273.75 85.07 L274.05 85.01 L274.35 85.27 L274.65 85.84 L274.96 86.56 L275.26 87.30 L275.56 87.93 L275.86 88.46 L276.16 89.04 L276.47 89.55 L276.77 89.90 L277.07 89.99 L277.37 89.86 L277.67 89.59 L277.97 89.24 L278.28 88.87 L278.58 88.52 L278.88 88.16 L279.18 87.74 L279.48 87.34 L279.79 87.07 L280.09 87.03 L280.39 87.44 L280.69 88.19 L280.99 89.01 L281.29 89.69 L281.60 90.30 L281.90 90.90 L282.20 91.50 L283.20 90.50 L284.20 84.00 L284.90 60.00 L285.30 35.00 L285.80 23.50 L286.60 21.60 L287.50 23.50 L288.10 35.00 L288.60 60.00 L289.40 82.00 L290.20 88.50 L291.40 91.50 L293.00 93.00 L296.00 93.60" fill="none" stroke="#4a4a4a" stroke-width="0.6" stroke-linejoin="round" />
<text x="312.60" y="19.60" font-size="6.6" font-weight="bold" fill="#222" text-anchor="start"  >ii.</text>
<line x1="324.30" y1="21.80" x2="324.30" y2="94.40" stroke="#747474" stroke-width="0.7" />
<line x1="321.80" y1="94.10" x2="407.00" y2="94.10" stroke="#747474" stroke-width="0.7" />
<rect x="320.0" y="19.8" width="1.6" height="4" fill="#9a9a9a"/>
<text x="324.00" y="98.10" font-size="3.2" font-weight="normal" fill="#4a4a4a" text-anchor="middle"  >10<tspan dy="-1.1" font-size="2.2">0</tspan></text>
<text x="344.50" y="98.10" font-size="3.2" font-weight="normal" fill="#4a4a4a" text-anchor="middle"  >10<tspan dy="-1.1" font-size="2.2">1</tspan></text>
<text x="365.00" y="98.10" font-size="3.2" font-weight="normal" fill="#4a4a4a" text-anchor="middle"  >10<tspan dy="-1.1" font-size="2.2">2</tspan></text>
<text x="385.50" y="98.10" font-size="3.2" font-weight="normal" fill="#4a4a4a" text-anchor="middle"  >10<tspan dy="-1.1" font-size="2.2">3</tspan></text>
<text x="406.00" y="98.10" font-size="3.2" font-weight="normal" fill="#4a4a4a" text-anchor="middle"  >10<tspan dy="-1.1" font-size="2.2">4</tspan></text>
<text x="331.00" y="30.10" font-size="5.35" font-weight="normal" fill="#111" text-anchor="start" stroke="#111" stroke-width="0.09" >OKT3</text>
<text x="331.00" y="36.10" font-size="5.35" font-weight="normal" fill="#111" text-anchor="start" stroke="#111" stroke-width="0.09" >+ dasatinib</text>
<text x="355.50" y="68.30" font-size="5.35" font-weight="normal" fill="#111" text-anchor="middle" stroke="#111" stroke-width="0.09" >&lt;1%</text>
<path d="M377.00 93.80 L380.00 93.20 L382.00 92.00 L383.20 89.00 L383.90 80.00 L384.30 50.00 L384.60 23.00 L385.20 22.00 L388.60 22.00 L389.20 23.00 L389.50 50.00 L389.90 80.00 L390.60 89.00 L391.80 92.00 L394.00 93.00 L397.00 93.80Z" fill="#dedede" stroke="none"/>
<path d="M377.00 93.80 L380.00 93.20 L382.00 92.00 L383.20 89.00 L383.90 80.00 L384.30 50.00 L384.60 23.00 L385.20 22.00 L388.60 22.00 L389.20 23.00 L389.50 50.00 L389.90 80.00 L390.60 89.00 L391.80 92.00 L394.00 93.00 L397.00 93.80" fill="none" stroke="#4a4a4a" stroke-width="0.6" stroke-linejoin="round" />
<text x="423.00" y="20.00" font-size="6.6" font-weight="bold" fill="#222" text-anchor="start"  >iii.</text>
<line x1="435.40" y1="21.60" x2="435.40" y2="94.40" stroke="#747474" stroke-width="0.7" />
<line x1="432.90" y1="94.10" x2="516.50" y2="94.10" stroke="#747474" stroke-width="0.7" />
<rect x="431.1" y="19.6" width="1.6" height="4" fill="#9a9a9a"/>
<text x="435.00" y="98.10" font-size="3.2" font-weight="normal" fill="#4a4a4a" text-anchor="middle"  >10<tspan dy="-1.1" font-size="2.2">0</tspan></text>
<text x="455.62" y="98.10" font-size="3.2" font-weight="normal" fill="#4a4a4a" text-anchor="middle"  >10<tspan dy="-1.1" font-size="2.2">1</tspan></text>
<text x="476.25" y="98.10" font-size="3.2" font-weight="normal" fill="#4a4a4a" text-anchor="middle"  >10<tspan dy="-1.1" font-size="2.2">2</tspan></text>
<text x="496.88" y="98.10" font-size="3.2" font-weight="normal" fill="#4a4a4a" text-anchor="middle"  >10<tspan dy="-1.1" font-size="2.2">3</tspan></text>
<text x="517.50" y="98.10" font-size="3.2" font-weight="normal" fill="#4a4a4a" text-anchor="middle"  >10<tspan dy="-1.1" font-size="2.2">4</tspan></text>
<text x="439.50" y="30.10" font-size="5.35" font-weight="normal" fill="#111" text-anchor="start" stroke="#111" stroke-width="0.09" >OKT3</text>
<text x="439.50" y="36.20" font-size="5.35" font-weight="normal" fill="#111" text-anchor="start" stroke="#111" stroke-width="0.09" >+ dasatinib after 24hr</text>
<text x="470.00" y="68.30" font-size="5.35" font-weight="normal" fill="#111" text-anchor="middle" stroke="#111" stroke-width="0.09" >22%</text>
<path d="M448.00 93.80 L448.30 93.76 L448.60 93.72 L448.90 93.67 L449.21 93.62 L449.51 93.57 L449.81 93.52 L450.11 93.47 L450.41 93.41 L450.71 93.36 L451.01 93.30 L451.31 93.24 L451.62 93.17 L451.92 93.10 L452.22 93.03 L452.52 92.96 L452.82 92.89 L453.12 92.81 L453.42 92.73 L453.73 92.65 L454.03 92.57 L454.33 92.49 L454.63 92.40 L454.93 92.32 L455.23 92.23 L455.53 92.14 L455.84 92.05 L456.14 91.96 L456.44 91.86 L456.74 91.76 L457.04 91.66 L457.34 91.56 L457.64 91.46 L457.94 91.35 L458.25 91.25 L458.55 91.15 L458.85 91.05 L459.15 90.95 L459.45 90.85 L459.75 90.75 L460.05 90.65 L460.36 90.55 L460.66 90.45 L460.96 90.35 L461.26 90.25 L461.56 90.15 L461.86 90.05 L462.16 89.94 L462.47 89.81 L462.77 89.67 L463.07 89.54 L463.37 89.42 L463.67 89.34 L463.97 89.30 L464.27 89.39 L464.57 89.63 L464.88 89.95 L465.18 90.26 L465.48 90.49 L465.78 90.63 L466.08 90.77 L466.38 90.89 L466.68 90.97 L466.99 91.00 L467.29 90.92 L467.59 90.72 L467.89 90.44 L468.19 90.16 L468.49 89.93 L468.79 89.68 L469.10 89.42 L469.40 89.24 L469.70 89.21 L470.00 89.38 L470.30 89.68 L470.60 90.00 L470.90 90.25 L471.20 90.39 L471.51 90.51 L471.81 90.61 L472.11 90.70 L472.41 90.77 L472.71 90.80 L473.01 90.75 L473.31 90.54 L473.62 90.22 L473.92 89.85 L474.22 89.49 L474.52 89.18 L474.82 88.89 L475.12 88.57 L475.42 88.28 L475.73 88.07 L476.03 88.00 L476.33 88.13 L476.63 88.43 L476.93 88.81 L477.23 89.18 L477.53 89.46 L477.83 89.63 L478.14 89.80 L478.44 89.95 L478.74 90.07 L479.04 90.16 L479.34 90.20 L479.64 90.15 L479.94 89.98 L480.25 89.70 L480.55 89.37 L480.85 89.01 L481.15 88.66 L481.45 88.35 L481.75 88.00 L482.05 87.60 L482.36 87.22 L482.66 86.93 L482.96 86.80 L483.26 86.91 L483.56 87.26 L483.86 87.74 L484.16 88.24 L484.46 88.66 L484.77 88.94 L485.07 89.20 L485.37 89.44 L485.67 89.64 L485.97 89.77 L486.27 89.79 L486.57 89.65 L486.88 89.34 L487.18 88.93 L487.48 88.45 L487.78 87.95 L488.08 87.47 L488.38 86.80 L488.68 86.00 L488.99 85.23 L489.29 84.65 L489.59 84.40 L489.89 84.63 L490.19 85.25 L490.49 86.06 L490.79 86.86 L491.09 87.47 L491.40 88.00 L491.70 88.49 L492.00 88.96 L492.30 89.40 L493.20 88.00 L494.00 80.00 L494.50 50.00 L494.80 23.00 L495.40 22.00 L498.60 22.00 L499.20 23.00 L499.60 50.00 L500.00 74.00 L500.80 84.00 L501.60 88.00 L503.00 91.50 L505.00 93.20 L507.00 93.80Z" fill="#dedede" stroke="none"/>
<path d="M448.00 93.80 L448.30 93.76 L448.60 93.72 L448.90 93.67 L449.21 93.62 L449.51 93.57 L449.81 93.52 L450.11 93.47 L450.41 93.41 L450.71 93.36 L451.01 93.30 L451.31 93.24 L451.62 93.17 L451.92 93.10 L452.22 93.03 L452.52 92.96 L452.82 92.89 L453.12 92.81 L453.42 92.73 L453.73 92.65 L454.03 92.57 L454.33 92.49 L454.63 92.40 L454.93 92.32 L455.23 92.23 L455.53 92.14 L455.84 92.05 L456.14 91.96 L456.44 91.86 L456.74 91.76 L457.04 91.66 L457.34 91.56 L457.64 91.46 L457.94 91.35 L458.25 91.25 L458.55 91.15 L458.85 91.05 L459.15 90.95 L459.45 90.85 L459.75 90.75 L460.05 90.65 L460.36 90.55 L460.66 90.45 L460.96 90.35 L461.26 90.25 L461.56 90.15 L461.86 90.05 L462.16 89.94 L462.47 89.81 L462.77 89.67 L463.07 89.54 L463.37 89.42 L463.67 89.34 L463.97 89.30 L464.27 89.39 L464.57 89.63 L464.88 89.95 L465.18 90.26 L465.48 90.49 L465.78 90.63 L466.08 90.77 L466.38 90.89 L466.68 90.97 L466.99 91.00 L467.29 90.92 L467.59 90.72 L467.89 90.44 L468.19 90.16 L468.49 89.93 L468.79 89.68 L469.10 89.42 L469.40 89.24 L469.70 89.21 L470.00 89.38 L470.30 89.68 L470.60 90.00 L470.90 90.25 L471.20 90.39 L471.51 90.51 L471.81 90.61 L472.11 90.70 L472.41 90.77 L472.71 90.80 L473.01 90.75 L473.31 90.54 L473.62 90.22 L473.92 89.85 L474.22 89.49 L474.52 89.18 L474.82 88.89 L475.12 88.57 L475.42 88.28 L475.73 88.07 L476.03 88.00 L476.33 88.13 L476.63 88.43 L476.93 88.81 L477.23 89.18 L477.53 89.46 L477.83 89.63 L478.14 89.80 L478.44 89.95 L478.74 90.07 L479.04 90.16 L479.34 90.20 L479.64 90.15 L479.94 89.98 L480.25 89.70 L480.55 89.37 L480.85 89.01 L481.15 88.66 L481.45 88.35 L481.75 88.00 L482.05 87.60 L482.36 87.22 L482.66 86.93 L482.96 86.80 L483.26 86.91 L483.56 87.26 L483.86 87.74 L484.16 88.24 L484.46 88.66 L484.77 88.94 L485.07 89.20 L485.37 89.44 L485.67 89.64 L485.97 89.77 L486.27 89.79 L486.57 89.65 L486.88 89.34 L487.18 88.93 L487.48 88.45 L487.78 87.95 L488.08 87.47 L488.38 86.80 L488.68 86.00 L488.99 85.23 L489.29 84.65 L489.59 84.40 L489.89 84.63 L490.19 85.25 L490.49 86.06 L490.79 86.86 L491.09 87.47 L491.40 88.00 L491.70 88.49 L492.00 88.96 L492.30 89.40 L493.20 88.00 L494.00 80.00 L494.50 50.00 L494.80 23.00 L495.40 22.00 L498.60 22.00 L499.20 23.00 L499.60 50.00 L500.00 74.00 L500.80 84.00 L501.60 88.00 L503.00 91.50 L505.00 93.20 L507.00 93.80" fill="none" stroke="#4a4a4a" stroke-width="0.6" stroke-linejoin="round" />
<text x="212.40" y="128.60" font-size="6.6" font-weight="bold" fill="#222" text-anchor="start"  >iv</text>
<line x1="224.50" y1="130.00" x2="224.50" y2="202.30" stroke="#747474" stroke-width="0.7" />
<line x1="222.00" y1="202.00" x2="308.00" y2="202.00" stroke="#747474" stroke-width="0.7" />
<rect x="220.2" y="128.0" width="1.6" height="4" fill="#9a9a9a"/>
<text x="225.00" y="206.00" font-size="3.2" font-weight="normal" fill="#4a4a4a" text-anchor="middle"  >10<tspan dy="-1.1" font-size="2.2">0</tspan></text>
<text x="245.25" y="206.00" font-size="3.2" font-weight="normal" fill="#4a4a4a" text-anchor="middle"  >10<tspan dy="-1.1" font-size="2.2">1</tspan></text>
<text x="265.50" y="206.00" font-size="3.2" font-weight="normal" fill="#4a4a4a" text-anchor="middle"  >10<tspan dy="-1.1" font-size="2.2">2</tspan></text>
<text x="285.75" y="206.00" font-size="3.2" font-weight="normal" fill="#4a4a4a" text-anchor="middle"  >10<tspan dy="-1.1" font-size="2.2">3</tspan></text>
<text x="306.00" y="206.00" font-size="3.2" font-weight="normal" fill="#4a4a4a" text-anchor="middle"  >10<tspan dy="-1.1" font-size="2.2">4</tspan></text>
<text x="229.40" y="136.90" font-size="5.35" font-weight="normal" fill="#111" text-anchor="start" stroke="#111" stroke-width="0.09" >OKT3</text>
<text x="229.40" y="143.30" font-size="5.35" font-weight="normal" fill="#111" text-anchor="start" stroke="#111" stroke-width="0.09" font-style="italic">+ dasatinib after 48hr</text>
<text x="259.60" y="176.30" font-size="5.35" font-weight="normal" fill="#111" text-anchor="middle" stroke="#111" stroke-width="0.09" >38%</text>
<path d="M237.00 202.00 L237.30 201.97 L237.60 201.94 L237.90 201.89 L238.20 201.84 L238.50 201.78 L238.80 201.71 L239.10 201.64 L239.41 201.56 L239.71 201.48 L240.01 201.40 L240.31 201.31 L240.61 201.20 L240.91 201.08 L241.21 200.95 L241.51 200.80 L241.81 200.65 L242.11 200.49 L242.41 200.33 L242.71 200.16 L243.01 199.99 L243.31 199.81 L243.61 199.61 L243.92 199.40 L244.22 199.18 L244.52 198.95 L244.82 198.72 L245.12 198.48 L245.42 198.24 L245.72 198.01 L246.02 197.79 L246.32 197.55 L246.62 197.31 L246.92 197.06 L247.22 196.81 L247.52 196.58 L247.82 196.36 L248.12 196.16 L248.43 195.99 L248.73 195.82 L249.03 195.66 L249.33 195.54 L249.63 195.50 L249.93 195.56 L250.23 195.66 L250.53 195.76 L250.83 195.80 L251.13 195.66 L251.43 195.36 L251.73 194.96 L252.03 194.53 L252.33 194.16 L252.63 193.89 L252.94 193.62 L253.24 193.36 L253.54 193.15 L253.84 193.02 L254.14 193.02 L254.44 193.16 L254.74 193.40 L255.04 193.68 L255.34 193.95 L255.64 194.22 L255.94 194.56 L256.24 194.88 L256.54 195.12 L256.84 195.20 L257.14 195.09 L257.45 194.85 L257.75 194.57 L258.05 194.30 L258.35 194.11 L258.65 193.91 L258.95 193.73 L259.25 193.62 L259.55 193.63 L259.85 193.81 L260.15 194.11 L260.45 194.45 L260.75 194.76 L261.05 195.04 L261.35 195.35 L261.65 195.66 L261.95 195.89 L262.26 196.00 L262.56 195.93 L262.86 195.72 L263.16 195.42 L263.46 195.11 L263.76 194.83 L264.06 194.59 L264.36 194.32 L264.66 194.11 L264.96 194.00 L265.26 194.09 L265.56 194.35 L265.86 194.72 L266.16 195.12 L266.46 195.48 L266.77 195.74 L267.07 196.01 L267.37 196.27 L267.67 196.51 L267.97 196.69 L268.27 196.79 L268.57 196.77 L268.87 196.58 L269.17 196.25 L269.47 195.83 L269.77 195.36 L270.07 194.88 L270.37 194.44 L270.67 193.96 L270.97 193.38 L271.28 192.79 L271.58 192.31 L271.88 192.03 L272.18 192.06 L272.48 192.38 L272.78 192.90 L273.08 193.51 L273.38 194.12 L273.68 194.63 L273.98 195.20 L274.28 195.83 L274.58 196.40 L274.88 196.82 L275.18 197.00 L275.48 196.78 L275.79 196.18 L276.09 195.31 L276.39 194.32 L276.69 193.34 L276.99 192.35 L277.29 191.06 L277.59 189.82 L277.89 189.07 L278.19 189.14 L278.49 189.82 L278.79 190.85 L279.09 191.98 L279.39 192.98 L279.69 193.94 L279.99 195.03 L280.30 196.08 L280.60 196.91 L280.90 197.36 L281.20 197.40 L281.50 197.38 L281.80 197.33 L282.10 197.21 L282.40 197.00 L283.20 194.00 L283.80 182.00 L284.20 160.00 L284.50 131.00 L285.10 130.00 L288.00 130.00 L288.60 131.00 L288.90 160.00 L289.40 182.00 L290.20 194.00 L291.00 198.00 L292.40 200.50 L294.00 202.00Z" fill="#dedede" stroke="none"/>
<path d="M237.00 202.00 L237.30 201.97 L237.60 201.94 L237.90 201.89 L238.20 201.84 L238.50 201.78 L238.80 201.71 L239.10 201.64 L239.41 201.56 L239.71 201.48 L240.01 201.40 L240.31 201.31 L240.61 201.20 L240.91 201.08 L241.21 200.95 L241.51 200.80 L241.81 200.65 L242.11 200.49 L242.41 200.33 L242.71 200.16 L243.01 199.99 L243.31 199.81 L243.61 199.61 L243.92 199.40 L244.22 199.18 L244.52 198.95 L244.82 198.72 L245.12 198.48 L245.42 198.24 L245.72 198.01 L246.02 197.79 L246.32 197.55 L246.62 197.31 L246.92 197.06 L247.22 196.81 L247.52 196.58 L247.82 196.36 L248.12 196.16 L248.43 195.99 L248.73 195.82 L249.03 195.66 L249.33 195.54 L249.63 195.50 L249.93 195.56 L250.23 195.66 L250.53 195.76 L250.83 195.80 L251.13 195.66 L251.43 195.36 L251.73 194.96 L252.03 194.53 L252.33 194.16 L252.63 193.89 L252.94 193.62 L253.24 193.36 L253.54 193.15 L253.84 193.02 L254.14 193.02 L254.44 193.16 L254.74 193.40 L255.04 193.68 L255.34 193.95 L255.64 194.22 L255.94 194.56 L256.24 194.88 L256.54 195.12 L256.84 195.20 L257.14 195.09 L257.45 194.85 L257.75 194.57 L258.05 194.30 L258.35 194.11 L258.65 193.91 L258.95 193.73 L259.25 193.62 L259.55 193.63 L259.85 193.81 L260.15 194.11 L260.45 194.45 L260.75 194.76 L261.05 195.04 L261.35 195.35 L261.65 195.66 L261.95 195.89 L262.26 196.00 L262.56 195.93 L262.86 195.72 L263.16 195.42 L263.46 195.11 L263.76 194.83 L264.06 194.59 L264.36 194.32 L264.66 194.11 L264.96 194.00 L265.26 194.09 L265.56 194.35 L265.86 194.72 L266.16 195.12 L266.46 195.48 L266.77 195.74 L267.07 196.01 L267.37 196.27 L267.67 196.51 L267.97 196.69 L268.27 196.79 L268.57 196.77 L268.87 196.58 L269.17 196.25 L269.47 195.83 L269.77 195.36 L270.07 194.88 L270.37 194.44 L270.67 193.96 L270.97 193.38 L271.28 192.79 L271.58 192.31 L271.88 192.03 L272.18 192.06 L272.48 192.38 L272.78 192.90 L273.08 193.51 L273.38 194.12 L273.68 194.63 L273.98 195.20 L274.28 195.83 L274.58 196.40 L274.88 196.82 L275.18 197.00 L275.48 196.78 L275.79 196.18 L276.09 195.31 L276.39 194.32 L276.69 193.34 L276.99 192.35 L277.29 191.06 L277.59 189.82 L277.89 189.07 L278.19 189.14 L278.49 189.82 L278.79 190.85 L279.09 191.98 L279.39 192.98 L279.69 193.94 L279.99 195.03 L280.30 196.08 L280.60 196.91 L280.90 197.36 L281.20 197.40 L281.50 197.38 L281.80 197.33 L282.10 197.21 L282.40 197.00 L283.20 194.00 L283.80 182.00 L284.20 160.00 L284.50 131.00 L285.10 130.00 L288.00 130.00 L288.60 131.00 L288.90 160.00 L289.40 182.00 L290.20 194.00 L291.00 198.00 L292.40 200.50 L294.00 202.00" fill="none" stroke="#4a4a4a" stroke-width="0.6" stroke-linejoin="round" />
<text x="316.00" y="128.80" font-size="6.6" font-weight="bold" fill="#222" text-anchor="start"  >v.</text>
<line x1="330.40" y1="130.00" x2="330.40" y2="201.70" stroke="#747474" stroke-width="0.7" />
<line x1="327.90" y1="201.40" x2="412.50" y2="201.40" stroke="#747474" stroke-width="0.7" />
<rect x="326.1" y="128.0" width="1.6" height="4" fill="#9a9a9a"/>
<text x="331.40" y="205.40" font-size="3.2" font-weight="normal" fill="#4a4a4a" text-anchor="middle"  >10<tspan dy="-1.1" font-size="2.2">0</tspan></text>
<text x="351.80" y="205.40" font-size="3.2" font-weight="normal" fill="#4a4a4a" text-anchor="middle"  >10<tspan dy="-1.1" font-size="2.2">1</tspan></text>
<text x="372.20" y="205.40" font-size="3.2" font-weight="normal" fill="#4a4a4a" text-anchor="middle"  >10<tspan dy="-1.1" font-size="2.2">2</tspan></text>
<text x="392.60" y="205.40" font-size="3.2" font-weight="normal" fill="#4a4a4a" text-anchor="middle"  >10<tspan dy="-1.1" font-size="2.2">3</tspan></text>
<text x="413.00" y="205.40" font-size="3.2" font-weight="normal" fill="#4a4a4a" text-anchor="middle"  >10<tspan dy="-1.1" font-size="2.2">4</tspan></text>
<text x="331.60" y="137.40" font-size="5.35" font-weight="normal" fill="#111" text-anchor="start" stroke="#111" stroke-width="0.09" >OKT3</text>
<text x="331.60" y="143.30" font-size="5.35" font-weight="normal" fill="#111" text-anchor="start" stroke="#111" stroke-width="0.09" font-style="italic">+ dasatinib after 72hr</text>
<text x="361.80" y="176.30" font-size="5.35" font-weight="normal" fill="#111" text-anchor="middle" stroke="#111" stroke-width="0.09" >50%</text>
<path d="M339.00 201.40 L339.30 201.36 L339.60 201.31 L339.90 201.25 L340.20 201.18 L340.50 201.10 L340.80 201.01 L341.10 200.92 L341.40 200.82 L341.70 200.71 L342.00 200.60 L342.30 200.48 L342.60 200.34 L342.90 200.19 L343.20 200.02 L343.50 199.84 L343.80 199.64 L344.10 199.44 L344.40 199.23 L344.70 199.02 L345.00 198.80 L345.30 198.57 L345.60 198.33 L345.90 198.07 L346.20 197.80 L346.50 197.52 L346.80 197.23 L347.10 196.93 L347.40 196.63 L347.70 196.31 L348.00 196.00 L348.30 195.67 L348.60 195.33 L348.90 194.98 L349.20 194.62 L349.50 194.25 L349.80 193.87 L350.10 193.50 L350.40 193.12 L350.70 192.74 L351.00 192.33 L351.30 191.90 L351.60 191.49 L351.90 191.10 L352.20 190.78 L352.50 190.52 L352.80 190.28 L353.10 190.08 L353.40 190.00 L353.70 190.12 L354.00 190.41 L354.30 190.75 L354.60 191.00 L354.90 191.18 L355.20 191.35 L355.50 191.49 L355.80 191.58 L356.10 191.58 L356.40 191.31 L356.70 190.80 L357.00 190.18 L357.30 189.54 L357.60 189.00 L357.90 188.48 L358.20 187.92 L358.50 187.41 L358.80 187.07 L359.10 187.02 L359.40 187.29 L359.70 187.77 L360.00 188.33 L360.30 188.86 L360.60 189.29 L360.90 189.78 L361.20 190.27 L361.50 190.68 L361.80 190.94 L362.10 190.99 L362.40 190.93 L362.70 190.79 L363.00 190.63 L363.30 190.45 L363.60 190.29 L363.90 190.16 L364.20 190.03 L364.50 189.90 L364.80 189.77 L365.10 189.67 L365.40 189.61 L365.70 189.62 L366.00 189.82 L366.30 190.20 L366.60 190.67 L366.90 191.17 L367.20 191.60 L367.50 192.03 L367.80 192.53 L368.10 193.00 L368.40 193.38 L368.70 193.58 L369.00 193.57 L369.30 193.42 L369.60 193.19 L369.90 192.94 L370.20 192.71 L370.50 192.55 L370.80 192.40 L371.10 192.25 L371.40 192.12 L371.70 192.03 L372.00 192.00 L372.30 192.11 L372.60 192.38 L372.90 192.75 L373.20 193.15 L373.50 193.50 L373.80 193.79 L374.10 194.09 L374.40 194.40 L374.70 194.68 L375.00 194.88 L375.30 194.99 L375.60 194.96 L375.90 194.79 L376.20 194.52 L376.50 194.22 L376.80 193.94 L377.10 193.74 L377.40 193.54 L377.70 193.34 L378.00 193.17 L378.30 193.05 L378.60 193.00 L378.90 193.11 L379.20 193.40 L379.50 193.79 L379.80 194.18 L380.10 194.51 L380.40 194.87 L380.70 195.27 L381.00 195.63 L381.30 195.90 L381.60 196.00 L381.90 195.84 L382.20 195.42 L382.50 194.86 L382.80 194.27 L383.10 193.74 L383.40 193.32 L383.70 192.87 L384.00 192.44 L384.30 192.12 L384.60 192.00 L384.90 192.20 L385.20 192.72 L385.50 193.40 L385.80 194.10 L386.10 194.69 L386.40 195.36 L386.70 196.08 L387.00 196.74 L387.30 197.21 L387.60 197.40 L387.90 197.39 L388.20 197.35 L388.50 197.23 L388.80 197.00 L389.60 194.00 L390.20 182.00 L390.70 160.00 L391.20 135.00 L391.80 130.40 L392.50 129.60 L393.20 130.40 L393.80 135.00 L394.30 160.00 L394.90 182.00 L395.70 194.00 L396.60 198.00 L397.80 200.20 L399.50 201.40Z" fill="#dedede" stroke="none"/>
<path d="M339.00 201.40 L339.30 201.36 L339.60 201.31 L339.90 201.25 L340.20 201.18 L340.50 201.10 L340.80 201.01 L341.10 200.92 L341.40 200.82 L341.70 200.71 L342.00 200.60 L342.30 200.48 L342.60 200.34 L342.90 200.19 L343.20 200.02 L343.50 199.84 L343.80 199.64 L344.10 199.44 L344.40 199.23 L344.70 199.02 L345.00 198.80 L345.30 198.57 L345.60 198.33 L345.90 198.07 L346.20 197.80 L346.50 197.52 L346.80 197.23 L347.10 196.93 L347.40 196.63 L347.70 196.31 L348.00 196.00 L348.30 195.67 L348.60 195.33 L348.90 194.98 L349.20 194.62 L349.50 194.25 L349.80 193.87 L350.10 193.50 L350.40 193.12 L350.70 192.74 L351.00 192.33 L351.30 191.90 L351.60 191.49 L351.90 191.10 L352.20 190.78 L352.50 190.52 L352.80 190.28 L353.10 190.08 L353.40 190.00 L353.70 190.12 L354.00 190.41 L354.30 190.75 L354.60 191.00 L354.90 191.18 L355.20 191.35 L355.50 191.49 L355.80 191.58 L356.10 191.58 L356.40 191.31 L356.70 190.80 L357.00 190.18 L357.30 189.54 L357.60 189.00 L357.90 188.48 L358.20 187.92 L358.50 187.41 L358.80 187.07 L359.10 187.02 L359.40 187.29 L359.70 187.77 L360.00 188.33 L360.30 188.86 L360.60 189.29 L360.90 189.78 L361.20 190.27 L361.50 190.68 L361.80 190.94 L362.10 190.99 L362.40 190.93 L362.70 190.79 L363.00 190.63 L363.30 190.45 L363.60 190.29 L363.90 190.16 L364.20 190.03 L364.50 189.90 L364.80 189.77 L365.10 189.67 L365.40 189.61 L365.70 189.62 L366.00 189.82 L366.30 190.20 L366.60 190.67 L366.90 191.17 L367.20 191.60 L367.50 192.03 L367.80 192.53 L368.10 193.00 L368.40 193.38 L368.70 193.58 L369.00 193.57 L369.30 193.42 L369.60 193.19 L369.90 192.94 L370.20 192.71 L370.50 192.55 L370.80 192.40 L371.10 192.25 L371.40 192.12 L371.70 192.03 L372.00 192.00 L372.30 192.11 L372.60 192.38 L372.90 192.75 L373.20 193.15 L373.50 193.50 L373.80 193.79 L374.10 194.09 L374.40 194.40 L374.70 194.68 L375.00 194.88 L375.30 194.99 L375.60 194.96 L375.90 194.79 L376.20 194.52 L376.50 194.22 L376.80 193.94 L377.10 193.74 L377.40 193.54 L377.70 193.34 L378.00 193.17 L378.30 193.05 L378.60 193.00 L378.90 193.11 L379.20 193.40 L379.50 193.79 L379.80 194.18 L380.10 194.51 L380.40 194.87 L380.70 195.27 L381.00 195.63 L381.30 195.90 L381.60 196.00 L381.90 195.84 L382.20 195.42 L382.50 194.86 L382.80 194.27 L383.10 193.74 L383.40 193.32 L383.70 192.87 L384.00 192.44 L384.30 192.12 L384.60 192.00 L384.90 192.20 L385.20 192.72 L385.50 193.40 L385.80 194.10 L386.10 194.69 L386.40 195.36 L386.70 196.08 L387.00 196.74 L387.30 197.21 L387.60 197.40 L387.90 197.39 L388.20 197.35 L388.50 197.23 L388.80 197.00 L389.60 194.00 L390.20 182.00 L390.70 160.00 L391.20 135.00 L391.80 130.40 L392.50 129.60 L393.20 130.40 L393.80 135.00 L394.30 160.00 L394.90 182.00 L395.70 194.00 L396.60 198.00 L397.80 200.20 L399.50 201.40" fill="none" stroke="#4a4a4a" stroke-width="0.6" stroke-linejoin="round" />
<text x="276.60" y="225.60" font-size="8.4" font-weight="normal" fill="#111" text-anchor="start" stroke="#111" stroke-width="0.22" >CFSE</text>
<line x1="313.00" y1="224.70" x2="459.00" y2="224.70" stroke="#888" stroke-width="0.7" />
<polygon points="457.8,220.6 466.5,224.8 457.8,229" fill="#000"/>
<text x="199.00" y="250.00" font-size="10.7" font-weight="bold" fill="#000" text-anchor="start"  >D</text>
<line x1="243.50" y1="391.50" x2="216.00" y2="266.00" stroke="#3a3a3a" stroke-width="0.55" />
<line x1="276.30" y1="370.20" x2="257.40" y2="264.00" stroke="#3a3a3a" stroke-width="0.55" />
<line x1="297.30" y1="354.80" x2="287.00" y2="264.00" stroke="#3a3a3a" stroke-width="0.55" />
<line x1="314.00" y1="343.00" x2="308.40" y2="262.60" stroke="#3a3a3a" stroke-width="0.55" />
<line x1="243.50" y1="391.50" x2="314.00" y2="343.00" stroke="#3a3a3a" stroke-width="0.55" />
<line x1="255.00" y1="392.31" x2="326.00" y2="343.54" stroke="#3a3a3a" stroke-width="0.5" />
<line x1="276.35" y1="393.81" x2="339.42" y2="344.15" stroke="#3a3a3a" stroke-width="0.5" />
<line x1="297.15" y1="395.27" x2="353.54" y2="344.79" stroke="#3a3a3a" stroke-width="0.5" />
<line x1="317.96" y1="396.74" x2="366.95" y2="345.40" stroke="#3a3a3a" stroke-width="0.5" />
<line x1="338.76" y1="398.20" x2="381.07" y2="346.04" stroke="#3a3a3a" stroke-width="0.5" />
<line x1="353.00" y1="399.20" x2="384.60" y2="346.20" stroke="#3a3a3a" stroke-width="0.5" />
<path d="M314.00 343.00 L330.00 343.60 L334.50 342.00 L335.20 339.00 L334.60 320.00 L333.60 290.00 L332.40 262.60 L335.00 262.60 L337.00 290.00 L338.80 320.00 L339.80 337.00 L341.00 341.00 L343.50 342.60 L348.00 343.50 L356.00 344.00 L358.50 342.50 L360.00 341.00 L361.50 343.00 L364.00 344.80 L389.20 346.40Z" fill="#555" stroke="#333" stroke-width="0.5" stroke-linejoin="round" />
<line x1="314.00" y1="343.00" x2="389.20" y2="346.40" stroke="#3a3a3a" stroke-width="0.6" />
<path d="M297.30 354.80 L303.00 354.50 L305.00 350.50 L312.00 350.30 L320.00 349.00 L324.50 346.50 L325.80 339.00 L325.40 330.00 L324.20 300.00 L323.00 275.00 L323.50 275.00 L326.00 290.00 L329.00 310.00 L331.60 330.00 L333.00 338.50 L335.50 344.00 L339.00 347.50 L345.00 349.00 L352.00 349.50 L356.00 348.00 L358.00 345.00 L359.60 343.00 L361.00 346.00 L363.00 353.00 L365.00 357.50 L380.80 359.20Z" fill="#8c8c8c" stroke="#333" stroke-width="0.5" stroke-linejoin="round" />
<line x1="297.30" y1="354.80" x2="380.80" y2="359.20" stroke="#3a3a3a" stroke-width="0.6" />
<path d="M276.30 370.20 L295.00 371.30 L298.60 368.80 L299.40 360.00 L297.60 339.00 L295.40 310.00 L291.00 264.00 L294.40 264.00 L300.40 310.00 L302.80 339.00 L304.80 360.00 L306.30 368.50 L309.00 371.60 L320.00 372.80 L330.00 373.30 L332.50 372.00 L334.00 369.60 L335.50 372.30 L338.00 374.20 L367.70 376.40Z" fill="#bebebe" stroke="#333" stroke-width="0.5" stroke-linejoin="round" />
<line x1="276.30" y1="370.20" x2="367.70" y2="376.40" stroke="#3a3a3a" stroke-width="0.6" />
<path d="M243.50 391.50 L251.00 391.80 L253.50 389.20 L256.00 387.60 L259.00 389.30 L262.00 392.00 L270.00 393.00 L277.00 393.50 L279.00 392.00 L277.00 365.00 L272.00 320.00 L264.40 266.60 L268.40 266.60 L275.00 310.00 L280.40 350.00 L282.60 360.00 L285.00 369.00 L288.00 376.00 L291.00 380.50 L295.00 383.50 L300.00 385.50 L308.00 387.00 L316.00 387.60 L320.00 384.00 L322.00 379.00 L323.60 376.50 L325.00 379.00 L327.00 386.00 L329.00 391.00 L332.00 395.00 L338.00 397.50 L356.20 399.40Z" fill="#ececec" stroke="#333" stroke-width="0.5" stroke-linejoin="round" />
<line x1="243.50" y1="391.50" x2="356.20" y2="399.40" stroke="#3a3a3a" stroke-width="0.6" stroke-dasharray="3 0.8"/>
<text x="364.40" y="402.30" font-size="8.3" font-weight="bold" fill="#111" text-anchor="start"  >PHA</text>
<text x="371.60" y="383.50" font-size="8.3" font-weight="bold" fill="#111" text-anchor="start"  >PHA + 10 nM dasatinib</text>
<text x="383.60" y="364.50" font-size="8.3" font-weight="bold" fill="#111" text-anchor="start"  >Anti-CD3/CD28</text>
<text x="395.00" y="338.00" font-size="8.3" font-weight="bold" fill="#111" text-anchor="start"  >Anti-CD3/CD28</text>
<text x="390.00" y="348.50" font-size="8.3" font-weight="bold" fill="#111" text-anchor="start"  >+ 10 nM dasatinib</text>
<text transform="translate(232.8,353) rotate(-102.4)" font-size="8.5" fill="#222">Events</text>
<line x1="274.00" y1="399.40" x2="286.60" y2="399.40" stroke="#222" stroke-width="0.9" />
<line x1="274.00" y1="396.60" x2="274.00" y2="402.20" stroke="#222" stroke-width="0.9" />
<line x1="286.60" y1="396.60" x2="286.60" y2="402.20" stroke="#222" stroke-width="0.9" />
<line x1="287.00" y1="405.60" x2="312.00" y2="405.60" stroke="#222" stroke-width="0.9" />
<line x1="287.00" y1="402.80" x2="287.00" y2="408.40" stroke="#222" stroke-width="0.9" />
<line x1="312.00" y1="402.80" x2="312.00" y2="408.40" stroke="#222" stroke-width="0.9" />
<line x1="312.40" y1="412.00" x2="338.00" y2="412.00" stroke="#222" stroke-width="0.9" />
<line x1="312.40" y1="409.20" x2="312.40" y2="414.80" stroke="#222" stroke-width="0.9" />
<line x1="338.00" y1="409.20" x2="338.00" y2="414.80" stroke="#222" stroke-width="0.9" />
<text x="269.40" y="411.80" font-size="5.1" font-weight="normal" fill="#222" text-anchor="start" stroke="#222" stroke-width="0.09" >G0/G1</text>
<text x="297.80" y="416.40" font-size="5.1" font-weight="normal" fill="#222" text-anchor="start" stroke="#222" stroke-width="0.09" >S</text>
<text x="320.00" y="422.40" font-size="5.1" font-weight="normal" fill="#222" text-anchor="start" stroke="#222" stroke-width="0.09" >G2/M</text>
</g>
</svg>
</body></html>
